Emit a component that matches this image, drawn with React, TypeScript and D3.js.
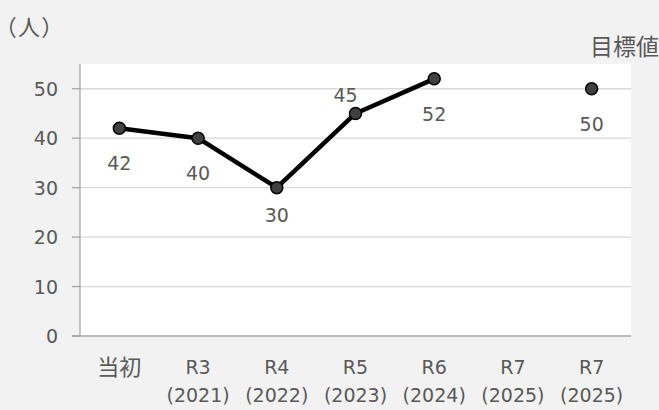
import * as d3 from "d3";

const categories = ["当初", "R3\n(2021)", "R4\n(2022)", "R5\n(2023)", "R6\n(2024)", "R7\n(2025)", "R7\n(2025)"];
const actual: (number | null)[] = [42, 40, 30, 45, 52, null, null];
const target: (number | null)[] = [null, null, null, null, null, null, 50];
// label placement per point: positive = below the marker, negative = above
const labelDy = [35, 35, 27, -18, 35, 0, 35];
const labelDx = [0, 0, 0, -10, 0, 0, 0];
const yTicks = [0, 10, 20, 30, 40, 50];

const W = 659;
const H = 410;
const LATIN = "'DejaVu Sans', 'Noto Sans CJK JP', sans-serif";
const CJK = "'Noto Sans CJK JP', sans-serif";
const TEXT = "#595959";
const FS = 19;
const FS_CJK = 22;

const isCJK = (s: string) => /[\u3000-\u9fff\uff00-\uffef]/.test(s);

export default function App() {
  const left = 80;
  const right = 631;
  const top = 64;
  const bottom = 336;

  const x = d3.scaleBand<number>().domain(d3.range(categories.length)).range([left, right]);
  const y = d3.scaleLinear().domain([0, 55]).range([bottom, top]);
  const cx = (i: number) => x(i)! + x.bandwidth() / 2;

  const line = d3
    .line<number | null>()
    .defined((d) => d != null)
    .x((_, i) => cx(i))
    .y((d) => y(d as number));

  const points = [
    ...actual.map((v, i) => ({ v, i })),
    ...target.map((v, i) => ({ v, i })),
  ].filter((p) => p.v != null) as { v: number; i: number }[];

  return (
    <svg width={W} height={H} style={{ position: "absolute", left: 0, top: 0, fontFamily: LATIN }}>
      <rect x={0} y={0} width={W} height={H} fill="#f2f2f2" />
      <rect x={left} y={top} width={right - left} height={bottom - top} fill="#ffffff" />
      {yTicks.map((t) => (
        <g key={t}>
          {t > 0 && <line x1={left} x2={right} y1={y(t)} y2={y(t)} stroke="#d9d9d9" strokeWidth={1.3} />}
          <line x1={72} x2={left} y1={y(t)} y2={y(t)} stroke="#a6a6a6" strokeWidth={1.3} />
          <text x={58} y={y(t)} textAnchor="end" dominantBaseline="central" fontSize={FS} fill={TEXT}>
            {t}
          </text>
        </g>
      ))}
      <line x1={left} x2={left} y1={top} y2={bottom} stroke="#a6a6a6" strokeWidth={1.3} />
      <line x1={72} x2={right} y1={bottom} y2={bottom} stroke="#a6a6a6" strokeWidth={1.3} />
      {categories.map((c, i) => (
        <text key={i} textAnchor="middle" fill={TEXT}>
          {c.split("\n").map((s, j) => (
            <tspan
              key={j}
              x={cx(i)}
              y={isCJK(s) ? 375 : 374 + j * 28}
              fontSize={isCJK(s) ? FS_CJK : FS}
              fontFamily={isCJK(s) ? CJK : LATIN}
            >
              {s}
            </tspan>
          ))}
        </text>
      ))}
      <path d={line(actual) ?? ""} fill="none" stroke="#000000" strokeWidth={4.5} strokeLinejoin="round" />
      {points.map((p, k) => (
        <circle key={k} cx={cx(p.i)} cy={y(p.v)} r={6} fill="#404040" stroke="#000000" strokeWidth={1.5} />
      ))}
      {points.map((p, k) => (
        <text
          key={k}
          x={cx(p.i) + labelDx[p.i]}
          y={y(p.v) + labelDy[p.i]}
          textAnchor="middle"
          dominantBaseline="central"
          fontSize={FS}
          fill={TEXT}
        >
          {p.v}
        </text>
      ))}
      <text
        x={5}
        y={25}
        dominantBaseline="central"
        fontSize={FS_CJK}
        fontFamily={CJK}
        fill={TEXT}
        letterSpacing={2}
        style={{ fontFeatureSettings: '"palt"' }}
      >
        （人）
      </text>
      <text x={659} y={45} textAnchor="end" dominantBaseline="central" fontSize={FS_CJK + 1} fontFamily={CJK} fill={TEXT}>
        目標値
      </text>
    </svg>
  );
}
